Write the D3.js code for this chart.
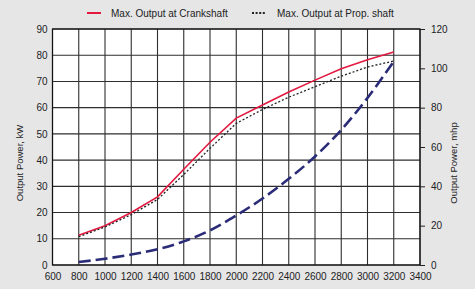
<!DOCTYPE html>
<html>
<head>
<meta charset="utf-8">
<script src="https://cdn.jsdelivr.net/npm/d3@7"></script>
<style>
  html, body { margin: 0; padding: 0; background: #e6e6e7; }
  svg { display: block; font-family: "Liberation Sans", Arial, sans-serif; }
</style>
</head>
<body>
<div id="chart"></div>
<script>
const rpm = [800, 1000, 1200, 1400, 1600, 1800, 2000, 2200, 2400, 2600, 2800, 3000, 3200];
const crankKw = [11.3, 15, 20, 26, 36.5, 46.8, 56, 61, 66, 70.5, 74.8, 78.3, 81.2];
const propKw = [10.8, 14.5, 19.2, 25, 34.5, 44.5, 54, 59.3, 64, 68, 72, 75.5, 77.8];
const propMhp = [1.5, 3.2, 5.3, 8.0, 12.0, 17.6, 25.2, 33.8, 43.8, 55.2, 68.7, 85.0, 103.5];

const xTicks = d3.range(600, 3401, 200);
const kwTicks = d3.range(0, 91, 10);
const mhpTicks = d3.range(0, 121, 20);

const w = 475, h = 289;
const plotLeft = 52.5, plotRight = 420, plotTop = 29, plotBottom = 265;

const svg = d3.select('#chart').append('svg')
    .attr('width', w)
    .attr('height', h);

const x = d3.scaleLinear().domain([600, 3400]).range([plotLeft, plotRight]);
const y = d3.scaleLinear().domain([0, 90]).range([plotBottom, plotTop]);
const y2 = d3.scaleLinear().domain([0, 120]).range([plotBottom, plotTop]);

// plot background
svg.append('rect')
    .attr('x', plotLeft).attr('y', plotTop)
    .attr('width', plotRight - plotLeft).attr('height', plotBottom - plotTop)
    .attr('fill', '#fff');

// grid
const grid = svg.append('g').attr('stroke', '#2e2e2e').attr('stroke-width', 1.1);
grid.selectAll('.vx')
    .data(xTicks)
    .enter().append('line')
    .attr('x1', d => x(d)).attr('x2', d => x(d))
    .attr('y1', plotTop).attr('y2', plotBottom);
grid.selectAll('.hy')
    .data(kwTicks)
    .enter().append('line')
    .attr('x1', plotLeft).attr('x2', plotRight)
    .attr('y1', d => y(d)).attr('y2', d => y(d));

// frame
svg.append('rect')
    .attr('x', plotLeft).attr('y', plotTop)
    .attr('width', plotRight - plotLeft).attr('height', plotBottom - plotTop)
    .attr('fill', 'none').attr('stroke', '#111').attr('stroke-width', 1.2);

// axes
const xAxis = svg.append('g')
    .attr('transform', `translate(0,${plotBottom})`)
    .call(d3.axisBottom(x).tickValues(xTicks).tickSize(0).tickPadding(8).tickFormat(d3.format('d')));

const yAxis = svg.append('g')
    .attr('transform', `translate(${plotLeft},0)`)
    .call(d3.axisLeft(y).tickValues(kwTicks).tickSize(0).tickPadding(5));

const y2Axis = svg.append('g')
    .attr('transform', `translate(${plotRight},0)`)
    .call(d3.axisRight(y2).tickValues(mhpTicks).tickSize(5).tickPadding(6));

[xAxis, yAxis, y2Axis].forEach(a => {
    a.select('.domain').remove();
    a.selectAll('text').attr('font-size', 10).attr('fill', '#222')
        .attr('font-family', '"Liberation Sans", Arial, sans-serif');
    a.selectAll('line').attr('stroke', '#222');
});

// axis titles
svg.append('text')
    .attr('transform', 'translate(23,163) rotate(-90)')
    .attr('text-anchor', 'middle')
    .attr('font-size', 9.5)
    .attr('fill', '#222')
    .text('Output Power, kW');

svg.append('text')
    .attr('transform', 'translate(457,163) rotate(-90)')
    .attr('text-anchor', 'middle')
    .attr('font-size', 9.5)
    .attr('fill', '#222')
    .text('Output Power, mhp');

// series
const crankLine = d3.line().x((d, i) => x(rpm[i])).y(d => y(d));
const mhpLine = d3.line().x((d, i) => x(rpm[i])).y(d => y2(d)).curve(d3.curveMonotoneX);

svg.append('path')
    .datum(propMhp)
    .attr('d', mhpLine)
    .attr('fill', 'none')
    .attr('stroke', '#2a2c78')
    .attr('stroke-width', 2.6)
    .attr('stroke-dasharray', '12,5');

svg.append('path')
    .datum(crankKw)
    .attr('d', crankLine)
    .attr('fill', 'none')
    .attr('stroke', '#e3183f')
    .attr('stroke-width', 1.6);

svg.append('path')
    .datum(propKw)
    .attr('d', crankLine)
    .attr('fill', 'none')
    .attr('stroke', '#222')
    .attr('stroke-width', 1.3)
    .attr('stroke-dasharray', '2,2');

// legend
const legend = svg.append('g').attr('font-size', 10).attr('fill', '#222');
legend.append('line')
    .attr('x1', 87).attr('x2', 101).attr('y1', 13).attr('y2', 13)
    .attr('stroke', '#e3183f').attr('stroke-width', 2);
legend.append('text').attr('x', 111).attr('y', 17).text('Max. Output at Crankshaft');
legend.append('line')
    .attr('x1', 252).attr('x2', 266).attr('y1', 13).attr('y2', 13)
    .attr('stroke', '#222').attr('stroke-width', 2).attr('stroke-dasharray', '2,1.6');
legend.append('text').attr('x', 277).attr('y', 17).text('Max. Output at Prop. shaft');
</script>
</body>
</html>
